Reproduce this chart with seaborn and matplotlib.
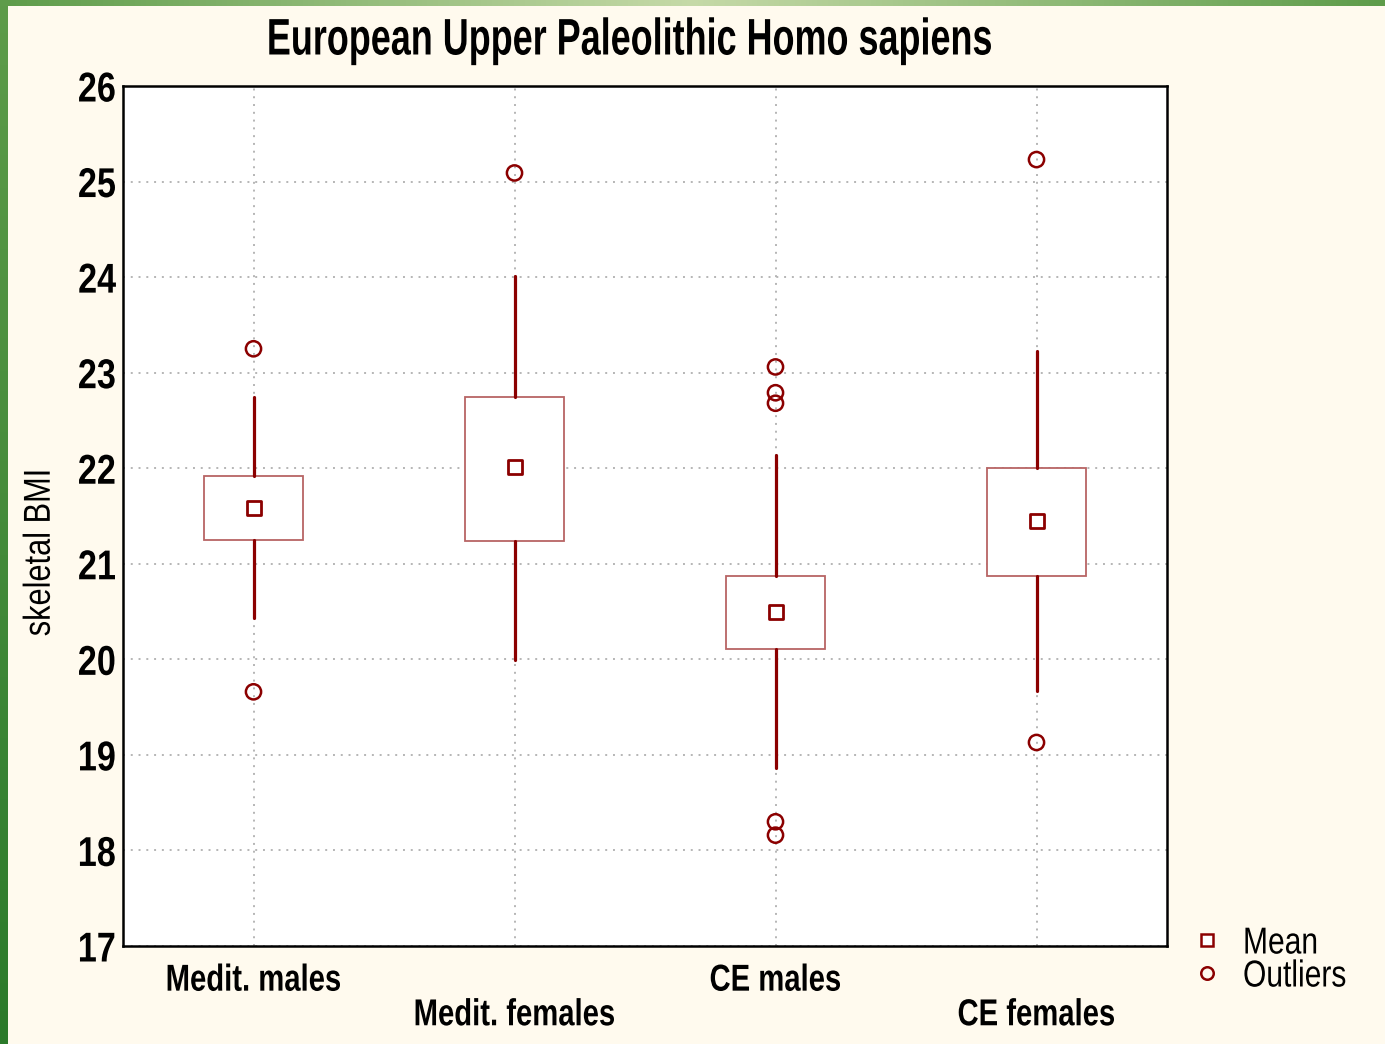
import numpy as np
import matplotlib
matplotlib.use("Agg")
import matplotlib.pyplot as plt
from matplotlib.lines import Line2D
from matplotlib.path import Path
from matplotlib.patheffects import AbstractPathEffect
from matplotlib.colors import LinearSegmentedColormap
import seaborn as sns

# Groups and summary statistics of skeletal BMI
groups = ["Medit. males", "Medit. females", "CE males", "CE females"]
means = [21.58, 22.01, 20.50, 21.45]
box_low = [21.25, 21.24, 20.11, 20.87]
box_high = [21.92, 22.75, 20.87, 22.00]
whisker_low = [20.43, 19.99, 18.86, 19.67]
whisker_high = [22.75, 24.01, 22.14, 23.23]
outliers = [
    [23.25, 19.66],
    [25.09],
    [23.06, 22.79, 22.68, 18.30, 18.16],
    [25.23, 19.13],
]
y_ticks = [17, 18, 19, 20, 21, 22, 23, 24, 25, 26]


class Squeeze(AbstractPathEffect):
    """Draw text condensed horizontally around a chosen anchor."""

    def __init__(self, sx, anchor="center"):
        super().__init__()
        self.sx = sx
        self.anchor = anchor

    def draw_path(self, renderer, gc, tpath, affine, rgbFace=None):
        v = np.array(tpath.vertices, dtype=float)
        if len(v):
            x0, x1 = v[:, 0].min(), v[:, 0].max()
            c = {"left": x0, "right": x1}.get(self.anchor, (x0 + x1) / 2)
            v[:, 0] = c + (v[:, 0] - c) * self.sx
            tpath = Path(v, tpath.codes)
        renderer.draw_path(gc, tpath, affine, rgbFace)


sns.set_style("white")
plt.rcParams["font.family"] = ["Liberation Sans", "DejaVu Sans"]
plt.rcParams["text.color"] = "black"
plt.rcParams["axes.labelcolor"] = "black"
plt.rcParams["xtick.color"] = "black"
plt.rcParams["ytick.color"] = "black"

RED = "#8b0000"
BOX_EDGE = "#b86464"
BG = "#fffaee"

fig = plt.figure(figsize=(13.85, 10.44), dpi=100, facecolor=BG)

# green frame strips along the left and top edges
left_strip = fig.add_axes([0, 0, 8 / 1385, 1])
left_strip.imshow(np.linspace(0, 1, 256).reshape(-1, 1), aspect="auto",
                  cmap=LinearSegmentedColormap.from_list("lg", ["#5e9c4a", "#2b7a2a"]))
left_strip.axis("off")
top_strip = fig.add_axes([0, 1 - 6 / 1044, 1, 6 / 1044])
top_strip.imshow(np.linspace(0, 1, 256).reshape(1, -1), aspect="auto",
                 cmap=LinearSegmentedColormap.from_list("tg", ["#5e9c4a", "#c6daa8", "#5e9c4a"]))
top_strip.axis("off")

ax = fig.add_axes([123 / 1385, 98 / 1044, 1044 / 1385, 860 / 1044])
ax.set_facecolor("white")

pos = np.arange(len(groups))
stats = []
for i in range(len(groups)):
    stats.append(dict(med=means[i], q1=box_low[i], q3=box_high[i],
                      whislo=whisker_low[i], whishi=whisker_high[i],
                      fliers=[], mean=means[i]))
ax.bxp(stats, positions=pos, widths=0.38, showcaps=False, showfliers=False,
       showmeans=False, patch_artist=True,
       boxprops=dict(facecolor="white", edgecolor=BOX_EDGE, linewidth=1.3, zorder=3),
       whiskerprops=dict(color=RED, linewidth=2.3, zorder=3),
       medianprops=dict(linewidth=0))

# outliers
ox, oy = [], []
for i, vals in enumerate(outliers):
    ox += [i] * len(vals)
    oy += vals
sns.scatterplot(x=ox, y=oy, ax=ax, marker="o", s=120, facecolor="none",
                edgecolor=RED, linewidth=1.8, zorder=4, legend=False)
# means
sns.scatterplot(x=pos, y=means, ax=ax, marker="s", s=110, color="white",
                edgecolor=RED, linewidth=2.0, zorder=5, legend=False)

ax.set_xlim(-0.5, 3.5)
ax.set_ylim(17, 26)
ax.set_yticks(y_ticks)
ax.set_yticklabels([str(t) for t in y_ticks], fontsize=30, fontweight="bold")
ax.set_xticks(pos)
labels = [g if i % 2 == 0 else "\n" + g for i, g in enumerate(groups)]
ax.set_xticklabels(labels, fontsize=27, fontweight="bold")
for t in ax.get_xticklabels():
    t.set_linespacing(0.95)
    t.set_path_effects([Squeeze(0.78, "center")])
for t in ax.get_yticklabels():
    t.set_path_effects([Squeeze(0.82, "right")])
ax.tick_params(axis="both", direction="in", length=7, width=1.5, color="black")
ax.tick_params(axis="x", pad=12)
ax.tick_params(axis="y", pad=5)
for s in ax.spines.values():
    s.set_color("black")
    s.set_linewidth(1.8)
ax.grid(True, color="#b5b5b5", linestyle=(0, (1, 3)), linewidth=1.4, zorder=0)
ax.set_axisbelow(True)

ax.set_ylabel("skeletal BMI", fontsize=27, labelpad=0)
ax.yaxis.set_label_coords(-0.0625, 0.458)
ax.yaxis.label.set_path_effects([Squeeze(0.82, "center")])
ax.set_xlabel("")
title = fig.text(630 / 1385, 1 - 41 / 1044, "European Upper Paleolithic Homo sapiens",
                 fontsize=37, fontweight="bold", ha="center", va="center")
title.set_path_effects([Squeeze(0.7, "center")])

handles = [
    Line2D([], [], marker="s", linestyle="none", markersize=9, markerfacecolor="white",
           markeredgecolor=RED, markeredgewidth=1.8),
    Line2D([], [], marker="o", linestyle="none", markersize=9, markerfacecolor="none",
           markeredgecolor=RED, markeredgewidth=1.8),
]
leg = fig.legend(handles, ["Mean", "Outliers"], loc="center left",
                 bbox_to_anchor=(1186 / 1385, 1 - 960 / 1044), frameon=False,
                 fontsize=27, handletextpad=0.42, labelspacing=-0.08, handlelength=1.1,
                 borderpad=0, borderaxespad=0)
for t in leg.get_texts():
    t.set_path_effects([Squeeze(0.8, "left")])

fig.savefig("out.png", dpi=100, facecolor=BG)
